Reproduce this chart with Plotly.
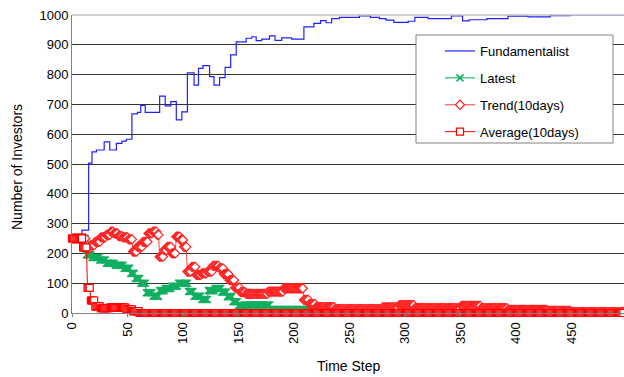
import plotly.graph_objects as go

# ---- data ----
time_steps = list(range(500))

# Fundamentalist: step changes (time step where value starts, value)
fund_t = [0, 9, 15, 18, 22, 29, 34, 40, 45, 49, 54, 59, 62, 66, 79, 84, 89, 94, 99,
          104, 110, 114, 118, 124, 128, 133, 138, 143, 148, 157, 162, 166, 171, 178,
          183, 189, 198, 209, 218, 224, 229, 234, 241, 259, 269, 277, 283, 290, 303,
          309, 321, 342, 352, 358, 374, 393, 411, 431, 449, 499]
fund_v = [250, 278, 503, 541, 547, 574, 547, 569, 577, 583, 668, 673, 697, 673, 728, 695,
          709, 648, 675, 806, 765, 821, 830, 793, 765, 790, 824, 866, 910, 922, 927, 914,
          919, 930, 915, 923, 919, 960, 972, 981, 974, 988, 992, 997, 992, 988, 983, 975,
          979, 992, 988, 997, 980, 984, 988, 996, 994, 998, 1000, 1000]

# Latest / Trend / Average: (value, number of consecutive time steps)
latest_runs = [(250, 13), (195, 5), (186, 7), (178, 6), (167, 8), (160, 8), (150, 6),
               (133, 4), (116, 5), (100, 5), (68, 6), (56, 6), (75, 5), (82, 6), (90, 6),
               (100, 9), (72, 5), (56, 7), (45, 6), (75, 6), (82, 6), (70, 5), (55, 5),
               (38, 5), (24, 5), (27, 24), (12, 39), (4, 43), (1, 239)]
trend_runs = [(250, 13), (217, 4), (228, 4), (239, 5), (254, 5), (262, 4), (273, 3),
              (267, 4), (258, 4), (254, 5), (247, 4), (206, 4), (222, 5), (239, 5),
              (267, 4), (273, 4), (262, 2), (189, 4), (211, 3), (222, 4), (200, 4),
              (256, 4), (245, 3), (222, 3), (139, 4), (155, 4), (128, 5), (133, 5),
              (139, 5), (158, 6), (150, 4), (130, 5), (110, 5), (85, 5), (70, 5),
              (64, 20), (72, 14), (83, 18), (44, 5), (30, 6), (20, 17), (13, 43),
              (19, 15), (26, 14), (16, 42), (24, 18), (16, 24), (10, 36), (7, 21), (3, 50)]
average_runs = [(250, 10), (220, 4), (84, 3), (42, 4), (22, 5), (16, 8), (18, 15),
                (12, 6), (6, 6), (0, 439)]

x_ticks = [0, 50, 100, 150, 200, 250, 300, 350, 400, 450]
y_ticks = [0, 100, 200, 300, 400, 500, 600, 700, 800, 900, 1000]


def expand(runs):
    out = []
    for v, n in runs:
        out.extend([v] * n)
    return out


latest = expand(latest_runs)
trend = expand(trend_runs)
average = expand(average_runs)

FONT = "Liberation Sans, Arial, sans-serif"

fig = go.Figure()
fig.add_trace(go.Scatter(x=fund_t, y=fund_v, mode="lines", name="Fundamentalist",
                         line=dict(color="#2020ff", width=1.2, shape="hv"),
                         legendgroup="a"))
fig.add_trace(go.Scatter(x=time_steps, y=latest, mode="lines+markers", name="Latest",
                         line=dict(color="#00b050", width=1),
                         marker=dict(symbol="x-thin", size=7,
                                     line=dict(color="#10b060", width=1.5)),
                         legendgroup="b"))
fig.add_trace(go.Scatter(x=time_steps, y=trend, mode="lines+markers", name="Trend(10days)",
                         line=dict(color="#ff4040", width=1),
                         marker=dict(symbol="diamond", size=7, color="white",
                                     line=dict(color="#ff2020", width=1.2)),
                         legendgroup="c"))
fig.add_trace(go.Scatter(x=time_steps, y=average, mode="lines+markers", name="Average(10days)",
                         line=dict(color="#ff0000", width=1),
                         marker=dict(symbol="square", size=7, color="white",
                                     line=dict(color="#ff0000", width=1.2)),
                         legendgroup="d", cliponaxis=False))

W, H = 624, 377
L, T, B, R = 72, 15, 64, 0


def px_x(p):
    return (p - L) / (W - L - R)


def px_y(p):
    return (H - B - p) / (H - T - B)


fig.update_layout(
    width=W, height=H,
    margin=dict(l=L, r=R, t=T, b=B),
    paper_bgcolor="white", plot_bgcolor="white",
    font=dict(family=FONT, size=13, color="#000"),
    showlegend=True,
    legend=dict(x=px_x(440), y=px_y(36), xanchor="left", yanchor="top",
                bgcolor="rgba(0,0,0,0)", borderwidth=0,
                font=dict(family=FONT, size=13, color="#000"),
                tracegroupgap=7, itemwidth=30, traceorder="grouped"),
    xaxis=dict(range=[0, 497.5], tickvals=x_ticks, tickangle=-90,
               showgrid=False, zeroline=False, showline=True, linecolor="#808080",
               linewidth=1, ticks="outside", ticklen=3, tickcolor="#808080",
               tickfont=dict(size=13, family=FONT)),
    yaxis=dict(range=[0, 1000], tickvals=y_ticks, showgrid=True, gridcolor="#333",
               gridwidth=1, zeroline=False, showline=True, linecolor="#808080",
               linewidth=1, ticks="", tickfont=dict(size=13, family=FONT)),
    shapes=[
        dict(type="line", xref="paper", yref="paper", x0=0, x1=1, y0=1, y1=1,
             line=dict(color="#c0c0c0", width=1.5), layer="above"),
        dict(type="rect", xref="paper", yref="paper", x0=px_x(416), x1=px_x(613),
             y0=px_y(143), y1=px_y(35), fillcolor="white",
             line=dict(color="#808080", width=1), layer="above"),
    ],
    annotations=[
        dict(text="Time Step", xref="paper", yref="paper", x=px_x(348), y=px_y(366),
             showarrow=False, font=dict(size=14, family=FONT), xanchor="center",
             yanchor="middle"),
        dict(text="Number of Investors", xref="paper", yref="paper", x=px_x(17),
             y=px_y(167), showarrow=False, textangle=-90,
             font=dict(size=14, family=FONT), xanchor="center", yanchor="middle"),
    ],
)

fig.write_html("out.html")
